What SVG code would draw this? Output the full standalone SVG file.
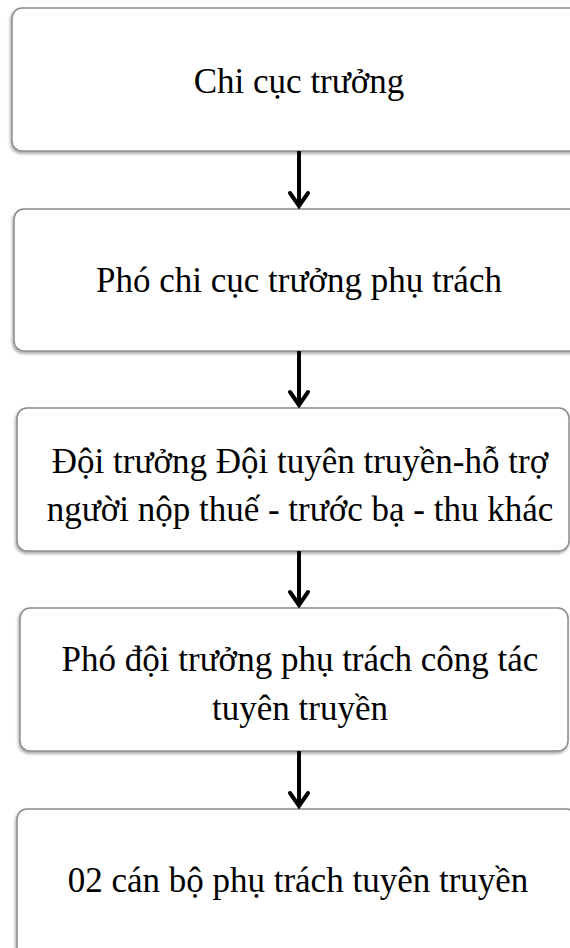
<svg xmlns="http://www.w3.org/2000/svg" width="570" height="948" viewBox="0 0 570 948">
<style>
.box{fill:#fff;stroke:#8a8a8a;stroke-width:1.5;filter:url(#sh)}
.t{font-family:"Liberation Serif","Times New Roman",serif;font-size:35px;fill:#000;text-anchor:middle}
.c{stroke:#000;stroke-width:4;fill:none}
.h{stroke:#000;stroke-width:4;fill:none;stroke-linecap:round;stroke-linejoin:miter}
</style>
<defs>
<filter id="sh" x="-5%" y="-5%" width="110%" height="115%">
<feDropShadow dx="-1" dy="2" stdDeviation="1.5" flood-color="#000" flood-opacity="0.35"/>
</filter>
</defs>
<g id="n1"><rect class="box" x="12" y="8" width="570" height="143" rx="10"/><text class="t" x="299" y="93">Chi cục trưởng</text></g>
<g id="n2"><rect class="box" x="14" y="209" width="568" height="142" rx="10"/><text class="t" x="299" y="292">Phó chi cục trưởng phụ trách</text></g>
<g id="n3"><rect class="box" x="17" y="408" width="552" height="143" rx="10"/><text class="t" x="300" y="473">Đội trưởng Đội tuyên truyền-hỗ trợ</text><text class="t" x="300" y="521">người nộp thuế - trước bạ - thu khác</text></g>
<g id="n4"><rect class="box" x="20" y="608" width="548" height="143" rx="10"/><text class="t" x="300" y="671">Phó đội trưởng phụ trách công tác</text><text class="t" x="300" y="720">tuyên truyền</text></g>
<g id="n5"><rect class="box" x="17" y="809" width="560" height="150" rx="10"/><text class="t" x="298" y="892">02 cán bộ phụ trách tuyên truyền</text></g>
<g id="connectors">
<path class="c" d="M299 151V206"/><path class="h" d="M290 193L299 206L308 193"/>
<path class="c" d="M299 351V405"/><path class="h" d="M290 392L299 405L308 392"/>
<path class="c" d="M299 551V605"/><path class="h" d="M290 592L299 605L308 592"/>
<path class="c" d="M299 751V806"/><path class="h" d="M290 793L299 806L308 793"/>
</g>
</svg>
